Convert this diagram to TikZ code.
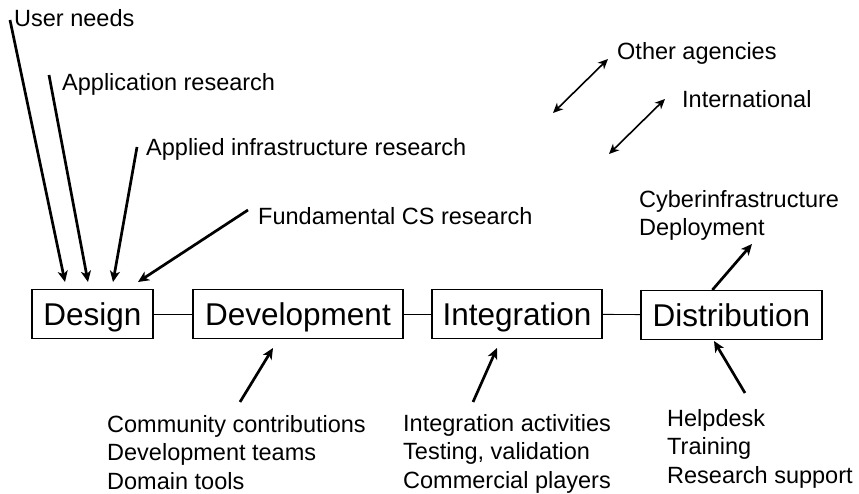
\documentclass[tikz,border=0pt]{standalone}
\usepackage{fontspec}
\setmainfont{Liberation Sans}
\usetikzlibrary{arrows.meta}

\tikzset{
  stage/.style={draw,line width=1.2pt,minimum height=49pt,inner sep=0pt,
    text height=22.5pt,text depth=0pt,
    font=\fontsize{31.5}{36}\selectfont},
  lbl/.style={inner sep=0pt,anchor=base west,font=\fontsize{23.5}{28}\selectfont},
  lbls/.style={inner sep=0pt,anchor=north west,align=left,
    font=\fontsize{23.5}{28.5}\selectfont},
  feed/.style={line width=2.7pt,-{Stealth[length=11pt,width=10pt,inset=3pt]}},
  both/.style={line width=1.6pt,{Stealth[length=10pt,width=9pt,inset=3pt]}-{Stealth[length=10pt,width=9pt,inset=3pt]}},
  link/.style={line width=0.9pt}
}

\begin{document}
\begin{tikzpicture}[x=1pt,y=-1pt]
    \useasboundingbox (0,0) rectangle (859,494);

    % the four stages
    \node[stage,minimum width=121pt] (design) at (92.5,314) {Design};
    \node[stage,minimum width=210pt] (devel) at (298,314) {Development};
    \node[stage,minimum width=170pt] (integ) at (517,314) {Integration};
    \node[stage,minimum width=181pt] (distr) at (731.5,315) {Distribution};
    \draw[link] (design) -- (devel);
    \draw[link] (devel) -- (integ);
    \draw[link] (integ) -- (distr);

    % inputs to design
    \node[lbl] (user) at (14,27) {User needs};
    \node[lbl] (appl) at (62,91) {Application research};
    \node[lbl] (infra) at (146,156) {Applied infrastructure research};
    \node[lbl] (fund) at (258,225) {Fundamental CS research};
    \coordinate (user tail) at (10,20);
    \coordinate (appl tail) at (49,75);
    \coordinate (infra tail) at (137,147);
    \coordinate (fund tail) at (248,210);
    \draw[feed] (user tail) -- (65,282);
    \draw[feed] (appl tail) -- (88,282);
    \draw[feed] (infra tail) -- (113,282);
    \draw[feed] (fund tail) -- (138,282);

    % partners
    \node[lbl] (other) at (617,60) {Other agencies};
    \node[lbl] (intl) at (682,108) {International};
    \coordinate (other a) at (553,113);
    \coordinate (other b) at (608,59);
    \coordinate (intl a) at (609,154);
    \coordinate (intl b) at (665,99);
    \draw[both] (other a) -- (other b);
    \draw[both] (intl a) -- (intl b);

    % deployment
    \node[lbls] (cyber) at (639,190) {Cyberinfrastructure\\Deployment};
    \coordinate (cyber tip) at (752,244);
    \draw[feed] (distr.north west) ++(72,0) -- (cyber tip);

    % contributions below
    \node[lbls] (comm) at (107,415) {Community contributions\\Development teams\\Domain tools};
    \node[lbls] (intact) at (403,414) {Integration activities\\Testing, validation\\Commercial players};
    \node[lbls] (help) at (667,409) {Helpdesk\\Training\\Research support};
    \coordinate (comm tail) at (240,402);
    \coordinate (intact tail) at (473,402);
    \coordinate (help tail) at (745,393);
    \draw[feed] (comm tail) -- (273,348);
    \draw[feed] (intact tail) -- (497,348);
    \draw[feed] (help tail) -- (714,341);
\end{tikzpicture}
\end{document}
